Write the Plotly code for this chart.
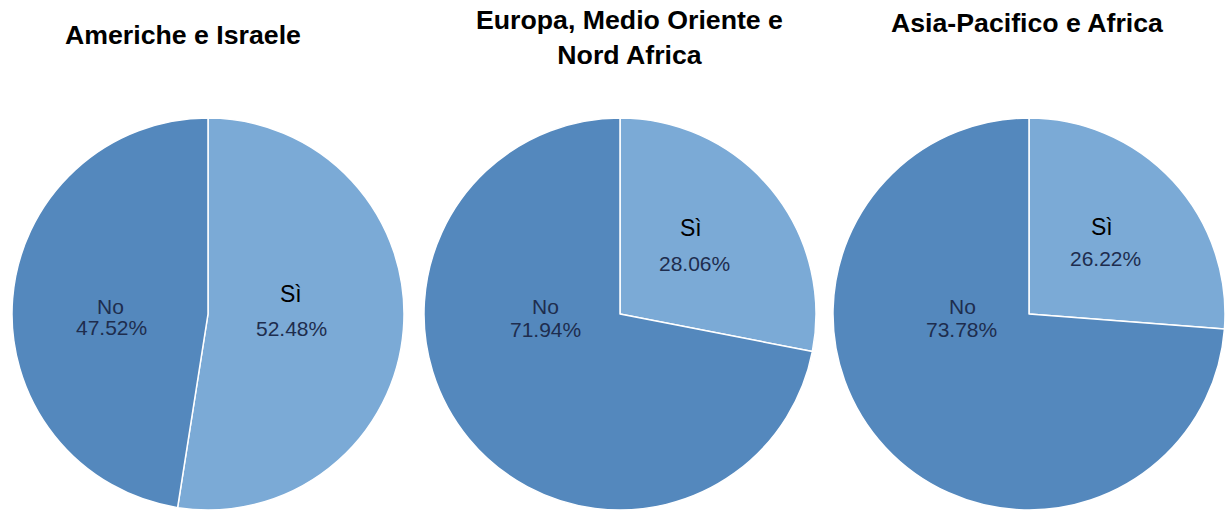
import plotly.graph_objects as go

# Survey answers per region (percent of respondents)
regions = ["Americhe e Israele", "Europa, Medio Oriente e<br>Nord Africa", "Asia-Pacifico e Africa"]
answers = ["Sì", "No"]
si_values = [52.48, 28.06, 26.22]
no_values = [47.52, 71.94, 73.78]

W, H = 1225, 510
COLORS = ["#7BAAD6", "#5488BD"]
FONT = "Arial, Liberation Sans, sans-serif"

# pie frames in pixels: (left, right, top)
frames = [(12, 404, 118), (424, 816, 118), (833, 1225, 118)]
# title centres in pixels: (x, y)
title_pos = [(183, 35), (629, 38), (1027, 23)]
# slice label placement in pixels, per pie: {answer: ((word x, y), (percent x, y))}
label_pos = [
    {"Sì": ((291, 294), (291, 328)), "No": ((110, 306), (111, 327))},
    {"Sì": ((691, 228), (694, 263)), "No": ((545, 306), (545, 329))},
    {"Sì": ((1102, 227), (1105, 258)), "No": ((962, 306), (961, 329))},
]
WORD_STYLE = {"Sì": dict(size=23, color="#000000"), "No": dict(size=21, color="#1E2D4E")}
PCT_STYLE = dict(size=21, color="#1E2D4E")

fig = go.Figure()
for (x0, x1, top), si, no in zip(frames, si_values, no_values):
    fig.add_trace(go.Pie(
        labels=answers,
        values=[si, no],
        sort=False,
        direction="clockwise",
        rotation=0,
        domain=dict(x=[x0 / W, x1 / W], y=[0, 1 - top / H]),
        marker=dict(colors=COLORS, line=dict(color="white", width=1.5)),
        textinfo="none",
        hoverinfo="label+percent",
        showlegend=False,
    ))


def px_note(text, x, y, font):
    fig.add_annotation(
        text=text, x=x / W, y=1 - y / H, xref="paper", yref="paper",
        xanchor="center", yanchor="middle", showarrow=False,
        font=dict(family=FONT, **font),
    )


for name, (tx, ty) in zip(regions, title_pos):
    px_note(f"<b>{name}</b>", tx, ty, dict(size=26.7, color="#000000"))

for pos, si, no in zip(label_pos, si_values, no_values):
    for answer, value in zip(answers, [si, no]):
        (wx, wy), (px, py) = pos[answer]
        px_note(answer, wx, wy, WORD_STYLE[answer])
        px_note(f"{value:.2f}%", px, py, PCT_STYLE)

fig.update_layout(
    width=W, height=H,
    margin=dict(l=0, r=0, t=0, b=0),
    paper_bgcolor="white", plot_bgcolor="white",
)

fig.write_html("out.html")
